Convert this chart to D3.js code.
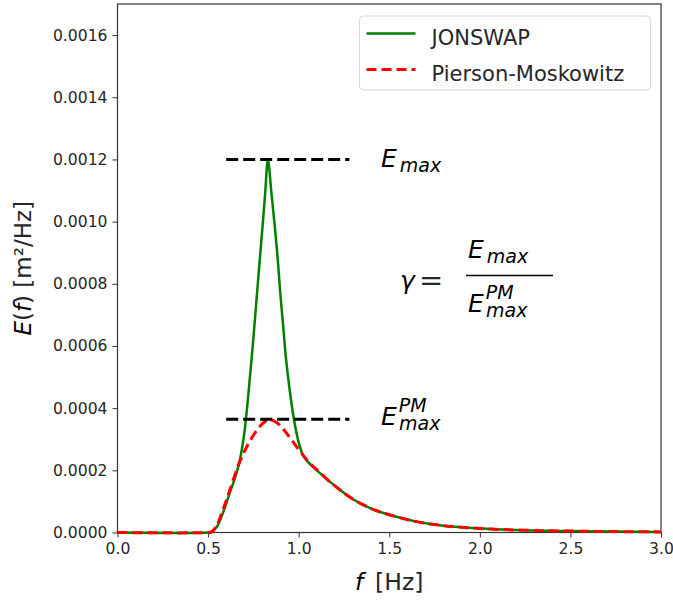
<!DOCTYPE html>
<html>
<head>
<meta charset="utf-8">
<script src="https://cdn.jsdelivr.net/npm/d3@7"></script>
<style>
  body { margin: 0; background: #fff; }
  text { font-family: "DejaVu Sans", sans-serif; fill: #262626; }
  .math { font-style: italic; fill: #000; }
</style>
</head>
<body>
<div class="chart"></div>
<script>
// frequency grid [Hz]
const freq = [0, 0.5, 0.52, 0.55, 0.58, 0.6, 0.62, 0.65, 0.675, 0.7, 0.72, 0.745, 0.78, 0.8, 0.815,
              0.83, 0.85, 0.88, 0.9, 0.915, 0.93, 0.95, 0.975, 1.0, 1.025, 1.05, 1.1, 1.2, 1.3,
              1.4, 1.5, 1.65, 1.8, 2.0, 2.2, 2.5, 2.75, 3.0];

// JONSWAP spectrum E(f) [m²/Hz]
const jonswap = [0, 0, 0.000002, 0.00002, 0.00006, 0.000093, 0.000128, 0.000178, 0.000232, 0.00032,
                 0.00043, 0.00059, 0.00084, 0.00098, 0.00109, 0.0012, 0.00109, 0.00091, 0.00076,
                 0.00066, 0.00056, 0.00046, 0.00036, 0.00029, 0.000248, 0.000228, 0.0002, 0.00015,
                 0.000107, 0.000077, 0.000057, 0.000035, 0.000022, 0.000013, 0.000008, 0.0000045,
                 0.000003, 0.000002];

// Pierson-Moskowitz spectrum E(f) [m²/Hz]
const pm = [0, 0, 0.000002, 0.000025, 0.00007, 0.000102, 0.000137, 0.000188, 0.000228, 0.00026,
            0.000283, 0.000308, 0.000337, 0.00035, 0.000357, 0.000362, 0.000362, 0.000353, 0.000343,
            0.000333, 0.000322, 0.000306, 0.000287, 0.000267, 0.000248, 0.00023, 0.000202, 0.00015,
            0.000107, 0.000077, 0.000057, 0.000035, 0.000022, 0.000013, 0.000008, 0.0000045,
            0.000003, 0.000002];

const xTicks = [0, 0.5, 1.0, 1.5, 2.0, 2.5, 3.0];
const yTicks = [0, 0.0002, 0.0004, 0.0006, 0.0008, 0.001, 0.0012, 0.0014, 0.0016];

// reference levels for the dashed markers
const eMax = 0.0012;
const eMaxPM = 0.000364;
const markRange = [0.6, 1.28];

const W = 673, H = 601;
const margin = {top: 4, right: 12, bottom: 68.5, left: 117.5};
const width = W - margin.left - margin.right,
      height = H - margin.top - margin.bottom;

const svg = d3.select(".chart").append("svg")
    .attr("width", W)
    .attr("height", H);

const g = svg.append("g")
    .attr("transform", "translate(" + margin.left + "," + margin.top + ")");

const x = d3.scaleLinear().domain([0, 3]).range([0, width]);
const y = d3.scaleLinear().domain([0, 0.0017]).range([height, 0]);

// axes
const xAxis = g.append("g")
    .attr("transform", "translate(0," + height + ")")
    .call(d3.axisBottom(x).tickValues(xTicks).tickFormat(d3.format(".1f")).tickSize(5).tickPadding(5));
const yAxis = g.append("g")
    .call(d3.axisLeft(y).tickValues(yTicks).tickFormat(d3.format(".4f")).tickSize(5).tickPadding(5));

[xAxis, yAxis].forEach(a => {
    a.select(".domain").remove();
    a.selectAll("line").attr("stroke", "#333").attr("stroke-width", 1);
    a.selectAll("text").style("font-size", "15.6px").style("font-family", "DejaVu Sans").attr("fill", "#262626");
});

// frame
g.append("rect")
    .attr("width", width)
    .attr("height", height)
    .attr("fill", "none")
    .attr("stroke", "#333")
    .attr("stroke-width", 1.2);

const line = (vals) => d3.line()
    .x((d, i) => x(freq[i]))
    .y(d => y(d))
    .curve(d3.curveCatmullRom.alpha(0.5))(vals);

// curves
g.append("path")
    .attr("d", line(jonswap))
    .attr("fill", "none")
    .attr("stroke", "green")
    .attr("stroke-width", 2.5);

g.append("path")
    .attr("d", line(pm))
    .attr("fill", "none")
    .attr("stroke", "red")
    .attr("stroke-width", 3)
    .attr("stroke-dasharray", "10,5");

// dashed markers for the two maxima
[eMax, eMaxPM].forEach(v => {
    g.append("line")
        .attr("x1", x(markRange[0]))
        .attr("x2", x(markRange[1]))
        .attr("y1", y(v))
        .attr("y2", y(v))
        .attr("stroke", "black")
        .attr("stroke-width", 3)
        .attr("stroke-dasharray", "12,5");
});

// math labels
function eLabel(px, py, sup) {
    const t = svg.append("text").attr("class", "math")
        .attr("x", px).attr("y", py).style("font-size", "25px");
    t.append("tspan").text("E");
    if (sup) {
        t.append("tspan").attr("dy", -13).attr("dx", 2).style("font-size", "19px").text("PM");
        t.append("tspan").attr("x", px + 18).attr("dy", 18).style("font-size", "19px").text("max");
    } else {
        t.append("tspan").attr("dy", 5).attr("dx", 3).style("font-size", "19px").text("max");
    }
}
eLabel(381, 167, false);
eLabel(381, 425, true);

// gamma = Emax / Emax^PM
svg.append("text").attr("class", "math")
    .attr("x", 400).attr("y", 289).style("font-size", "25px").text("γ");
svg.append("text")
    .attr("x", 419).attr("y", 290).style("font-size", "29px").attr("fill", "#000").text("=");
eLabel(468, 258, false);
svg.append("line")
    .attr("x1", 466).attr("x2", 553)
    .attr("y1", 275.5).attr("y2", 275.5)
    .attr("stroke", "black").attr("stroke-width", 1.3);
eLabel(468, 312, true);

// axis labels
const xl = svg.append("text")
    .attr("x", margin.left + width / 2)
    .attr("y", 590)
    .attr("text-anchor", "middle")
    .style("font-size", "23.5px");
xl.append("tspan").attr("class", "math").text("f");
xl.append("tspan").text("\u2002[Hz]");

const yl = svg.append("text")
    .attr("transform", "translate(31," + (margin.top + height / 2) + ") rotate(-90)")
    .attr("text-anchor", "middle")
    .style("font-size", "23px");
yl.append("tspan").attr("class", "math").text("E");
yl.append("tspan").text("(");
yl.append("tspan").attr("class", "math").text("f");
yl.append("tspan").text(") [m²/Hz]");

// legend
const lg = svg.append("g").attr("transform", "translate(359.5,16)");
lg.append("rect")
    .attr("width", 291)
    .attr("height", 74)
    .attr("rx", 4)
    .attr("fill", "white")
    .attr("fill-opacity", 0.8)
    .attr("stroke", "#d6d6d6");
const items = [
    {name: "JONSWAP", color: "green", dash: null, w: 2.5},
    {name: "Pierson-Moskowitz", color: "red", dash: "10,5", w: 3}
];
items.forEach((d, i) => {
    const yy = 17.5 + i * 36;
    lg.append("line")
        .attr("x1", 7).attr("x2", 56)
        .attr("y1", yy).attr("y2", yy)
        .attr("stroke", d.color)
        .attr("stroke-width", d.w)
        .attr("stroke-dasharray", d.dash);
    lg.append("text")
        .attr("x", 72).attr("y", yy + 11)
        .style("font-size", "21px")
        .text(d.name);
});
</script>
</body>
</html>
